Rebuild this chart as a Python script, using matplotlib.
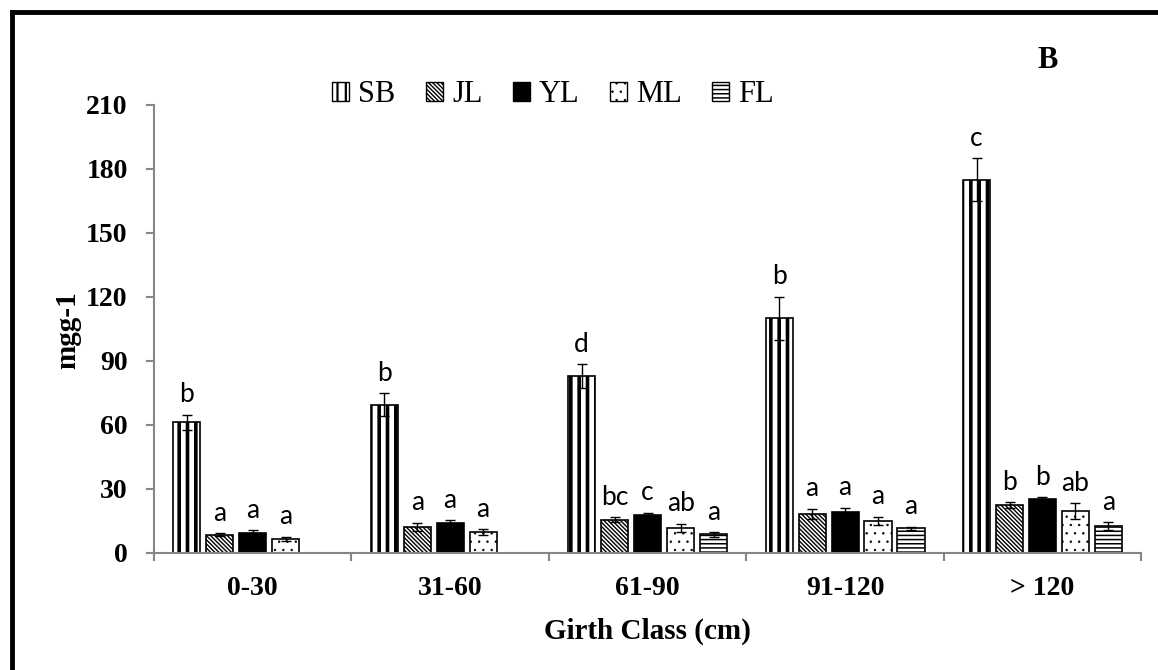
import numpy as np
import matplotlib
matplotlib.use('Agg')
import matplotlib.pyplot as plt
from matplotlib.patches import Patch
from matplotlib.lines import Line2D

# Data (mg g-1 by girth class)
categories = ['0-30', '31-60', '61-90', '91-120', '> 120']
series = ['SB', 'JL', 'YL', 'ML', 'FL']

sb = [61.2, 69.5, 83.0, 110.0, 175.0]
sb_err = [3.5, 5.3, 5.5, 10.0, 10.0]
jl = [8.5, 12.1, 15.5, 18.2, 22.3]
jl_err = [0.7, 2.0, 1.1, 2.5, 1.4]
yl = [9.3, 13.8, 17.5, 19.0, 25.1]
yl_err = [1.2, 1.4, 1.2, 2.0, 1.0]
ml = [6.6, 9.6, 11.6, 15.0, 19.6]
ml_err = [1.0, 1.5, 2.0, 1.9, 3.6]
fl = [np.nan, np.nan, 8.6, 11.5, 12.4]
fl_err = [np.nan, np.nan, 1.0, 0.7, 1.9]

letters_sb = ['b', 'b', 'd', 'b', 'c']
letters_jl = ['a', 'a', 'bc', 'a', 'b']
letters_yl = ['a', 'a', 'c', 'a', 'b']
letters_ml = ['a', 'a', 'ab', 'a', 'ab']
letters_fl = ['', '', 'a', 'a', 'a']

values = [sb, jl, yl, ml, fl]
errors = [sb_err, jl_err, yl_err, ml_err, fl_err]
letters = [letters_sb, letters_jl, letters_yl, letters_ml, letters_fl]

# fill colour, hatch, hatch linewidth for each series
styles = [('white', '||', 2.6),
          ('white', '\\' * 8, 1.0),
          ('black', '', 1.0),
          ('white', '..', 0.5),
          ('white', '----', 1.1)]

serif = 'Liberation Serif'
sans = 'Lato'


def hatch_width(artist, lw):
    # hatch.linewidth is looked up when drawing, so wrap the draw call
    if hasattr(artist, 'set_hatch_linewidth'):
        artist.set_hatch_linewidth(lw)
    orig = artist.draw

    def draw(renderer):
        with plt.rc_context({'hatch.linewidth': lw}):
            orig(renderer)
    artist.draw = draw


fig = plt.figure(figsize=(11.58, 6.70), dpi=100)
ax = fig.add_axes([0.133, 0.175, 0.8525, 0.6683])

x = np.arange(len(categories))
width = 0.137
step = 0.167

handles = []
for i, name in enumerate(series):
    face, hatch, hlw = styles[i]
    pos = x + (i - 2) * step
    bars = ax.bar(pos, values[i], width, color=face, edgecolor='black',
                  linewidth=1.2, hatch=hatch, zorder=2)
    for b in bars:
        hatch_width(b, hlw)
    ax.errorbar(pos, values[i], yerr=errors[i], fmt='none', ecolor='black',
                elinewidth=1.0, capsize=3.6, capthick=1.0, zorder=3)
    for j in range(len(categories)):
        if np.isnan(values[i][j]):
            continue
        ax.annotate(letters[i][j], (pos[j], values[i][j] + errors[i][j]),
                    xytext=(0, 9), textcoords='offset points',
                    ha='center', va='baseline', fontsize=19, family=sans)
    handles.append(Patch(facecolor=face, edgecolor='black', hatch=hatch, linewidth=1.0))

ax.set_xlim(-0.5, len(categories) - 0.5)
ax.set_ylim(0, 210)
ax.set_yticks(np.arange(0, 211, 30))

ax.set_xticks(x)
ax.set_xticklabels(categories, fontsize=20, fontweight='bold', family=serif)
ax.set_xticks(np.arange(-0.5, len(categories), 1.0), minor=True)
ax.tick_params(axis='x', which='major', length=0, pad=17)
ax.tick_params(axis='x', which='minor', length=6, width=1.5, color='#868686')
ax.tick_params(axis='y', length=6, width=1.5, color='#868686', pad=13)
for lab in ax.get_yticklabels():
    lab.set_fontsize(20)
    lab.set_fontweight('bold')
    lab.set_family(serif)

for side in ['top', 'right']:
    ax.spines[side].set_visible(False)
for side in ['left', 'bottom']:
    ax.spines[side].set_color('#868686')
    ax.spines[side].set_linewidth(1.5)

ax.set_xlabel('Girth Class (cm)', fontsize=21, fontweight='bold', family=serif)
ax.xaxis.set_label_coords(0.5, -0.145)
fig.text(68 / 1158, 1 - 330 / 670, 'mgg-1', rotation=90, ha='center', va='center',
         fontsize=21, fontweight='bold', family=serif)

fig.text(1048 / 1158, 1 - 60 / 670, 'B', ha='center', va='center',
         fontsize=22, fontweight='bold', family=serif)

leg = fig.legend(handles, series, loc='center', bbox_to_anchor=(553 / 1158, 1 - 95 / 670),
                 ncol=5, frameon=False, prop={'family': serif, 'size': 22},
                 handlelength=0.55, handleheight=0.55, handletextpad=0.3,
                 columnspacing=1.0)
for p, st in zip(leg.get_patches(), styles):
    hatch_width(p, min(st[2], 1.6))

# outer frame (top and left edges only are visible in the reference)
fig.add_artist(Line2D([12 / 1158, 12 / 1158], [0, 1 - 12 / 670], color='black',
                      linewidth=3.5, transform=fig.transFigure))
fig.add_artist(Line2D([12 / 1158, 1], [1 - 12 / 670, 1 - 12 / 670], color='black',
                      linewidth=3.5, transform=fig.transFigure))

fig.savefig('out.png', dpi=100)
